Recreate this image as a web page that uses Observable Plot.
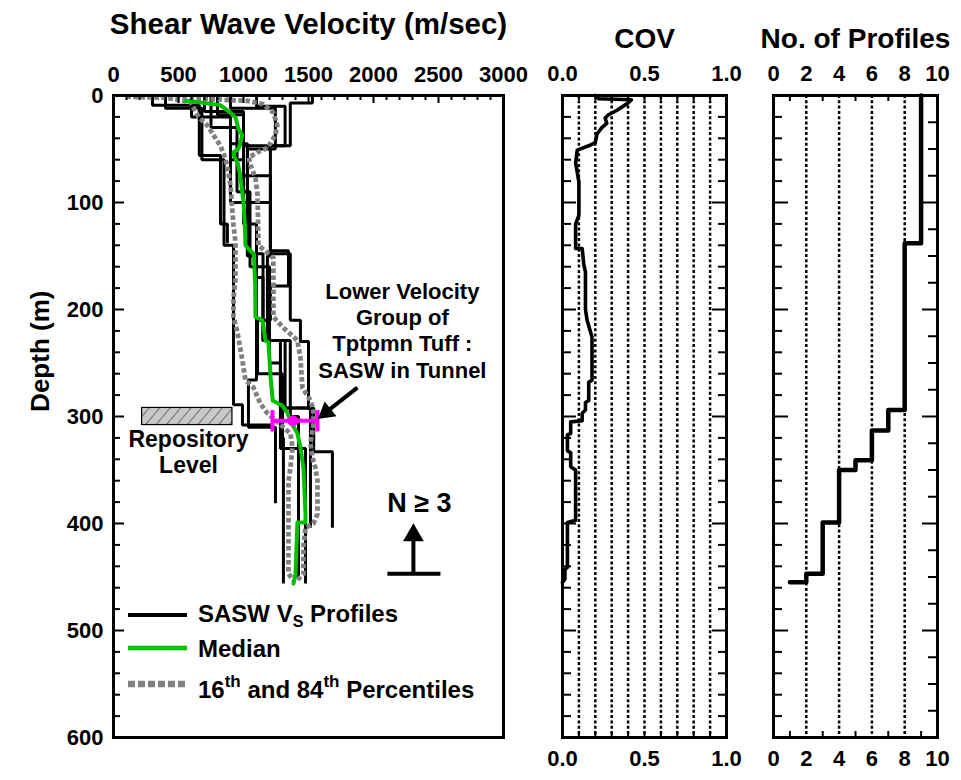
<!DOCTYPE html>
<html><head><meta charset="utf-8">
<script src="https://cdn.jsdelivr.net/npm/d3@7"></script>
<script src="https://cdn.jsdelivr.net/npm/@observablehq/plot@0.6"></script>
<style>
body{margin:0;background:#fff;}
#wrap{position:relative;width:961px;height:780px;}
</style></head><body><div id="wrap"></div>
<script>
// ---------------- data ----------------
const velTickLabels = [0, 500, 1000, 1500, 2000, 2500, 3000];
const depthTickLabels = [0, 100, 200, 300, 400, 500, 600];
const covTickLabels = [0, 0.5, 1.0];
const countTickLabels = [0, 2, 4, 6, 8, 10];
const covGrid = [0.1, 0.2, 0.3, 0.4, 0.5, 0.6, 0.7, 0.8, 0.9];
const countGrid = [2, 4, 6, 8];

// SASW Vs profiles: [velocity m/s, layer top depth m]
const profile1 = [[300,0],[660,9],[823,56],[876,120]];
const profile2 = [[1530,0],[1360,7],[1000,47],[1207,75],[1360,148],[1438,210],[1500,230]];
const profile3 = [[400,0],[680,12],[850,60],[923,140],[992,289],[1223,308]];
const profile4 = [[900,0],[1245,12],[1030,50],[1100,150],[1038,266],[1246,310]];
const profile5 = [[1100,0],[1320,10],[1207,47],[1184,150],[1284,229],[1540,292],[1684,333]];
const profile6 = [[800,0],[1000,18],[900,45],[1030,100],[1150,148],[1320,229],[1515,292]];
const profile7 = [[700,0],[1000,15],[1030,45],[1207,100],[1346,145],[1207,178],[1108,210],[1300,260],[1307,320]];
const profile8 = [[600,0],[900,20],[1000,60],[1100,120],[1150,170],[1360,229],[1423,300]];
const profile9 = [[750,0],[950,30],[1050,90],[1200,160],[1284,250],[1477,330]];
const profileBottoms = [138, 294, 313, 381, 404, 404, 456, 452, 456];

// median and percentiles: [velocity, depth]
const median = [[560,5],[820,9],[900,16],[940,21],[960,31],[990,37],[975,45],[960,50],[925,53],[925,56],[955,63],[975,75],[1000,100],[1010,120],[1015,140],[1050,145],[1080,148],[1090,178],[1092,207],[1146,210],[1169,229],[1192,231],[1210,266],[1225,285],[1300,290],[1340,297],[1360,304],[1415,316],[1438,329],[1461,348],[1477,391],[1477,399],[1415,399],[1400,447],[1385,456]];
const pct16 = [[100,1],[400,2],[592,6],[654,20],[723,28],[769,37],[823,47],[861,59],[884,72],[900,84],[915,109],[923,121],[938,137],[938,171],[923,190],[923,207],[954,222],[992,248],[1015,266],[1077,273],[1130,288],[1184,297],[1260,305],[1361,316],[1377,329],[1361,348],[1346,360],[1346,447],[1384,453]];
const pct84 = [[100,1],[500,2],[1030,5],[1150,8],[1230,16],[1260,28],[1245,37],[1185,49],[1108,53],[1040,58],[1054,65],[1092,77],[1108,93],[1115,140],[1184,147],[1230,152],[1230,207],[1307,217],[1415,229],[1438,245],[1453,273],[1515,285],[1538,294],[1538,307],[1515,325],[1530,338],[1553,348],[1569,360],[1569,391],[1538,400],[1477,404],[1461,422],[1461,447],[1415,453]];

// COV with depth: [cov, depth]
const covProfile = [[0.20,0],[0.22,3],[0.42,4],[0.40,7],[0.38,9],[0.33,14],[0.28,18],[0.26,21],[0.27,26],[0.24,30],[0.21,36],[0.20,44],[0.16,47],[0.09,51],[0.08,63],[0.09,72],[0.10,81],[0.10,112],[0.08,120],[0.08,143],[0.12,143],[0.13,158],[0.14,165],[0.14,200],[0.15,210],[0.18,226],[0.18,266],[0.16,268],[0.16,285],[0.14,287],[0.14,294],[0.12,297],[0.12,304],[0.05,305],[0.05,316],[0.03,317],[0.03,332],[0.05,334],[0.05,347],[0.08,350],[0.08,397],[0.03,399],[0.03,441],[0.015,443],[0.015,452],[0.0,455]];

// number of profiles: [count, layer top depth]
const countLayers = [[9,0],[8,138],[7,294],[6,313],[5,341],[4,350],[3,399],[2,447],[1,455]];
const countBottom = 455;

// annotations
const repository = [{v1: 220, v2: 915, d1: 292, d2: 308}];
const repositoryLabel = [{v: 577, d: 333, text: "Repository\nLevel"}];
const tunnel = [{mean: 1380, lo: 1223, hi: 1569, d: 304, capTop: 294, capBot: 314}];
const tunnelLabel = [{v: 2222, d: 219, text: "Lower Velocity\nGroup of\nTptpmn Tuff :\nSASW in Tunnel"}];
const tunnelArrow = [{v1: 1876, d1: 273, v2: 1645, d2: 295, hv: 1637, hd: 296}];
const nLabel = [{v: 2353, d: 381, text: "N \u2265 3"}];
const nMarker = [{v: 2307, d: 447, v1: 2107, v2: 2515, hd: 411}];
const depthTitle = [{d: 239, text: "Depth (m)"}];

const legendItems = [
  {label: ["SASW V", "S", " Profiles"], color: "black", width: 4, dash: null},
  {label: ["Median"], color: "#00c000", width: 4.5, dash: null},
  {label: ["16", "th", " and 84", "th", " Percentiles"], color: "#808080", width: 6.5, dash: "7,3"}
];

// ---------------- helpers ----------------
const FONT = '"Liberation Sans", Arial, Helvetica, sans-serif';
const H = 780, MT = 95, MB = 43;
const FH = H - MT - MB;

function stepRows(layers, bottom, id) {
  const rows = [];
  layers.forEach(([v, top], i) => {
    const bot = i < layers.length - 1 ? layers[i + 1][1] : bottom;
    rows.push({v, d: top, id}, {v, d: bot, id});
  });
  return rows;
}
const profiles = [profile1, profile2, profile3, profile4, profile5, profile6, profile7, profile8, profile9];
const profileRows = profiles.flatMap((p, i) => stepRows(p, profileBottoms[i], i));
const pts = arr => arr.map(([v, d]) => ({v, d}));

const depthMinor20 = d3.range(20, 600, 20).filter(d => d % 100 !== 0);
const depthMinor25 = d3.range(25, 600, 25).filter(d => d % 100 !== 0);
const depthMajor = [100, 200, 300, 400, 500];

const leftTicks = (vals, len, fw) => Plot.tickY(vals, {y: d => d, insetRight: fw - len, stroke: "black", strokeWidth: 2});
const rightTicks = (vals, len, fw) => Plot.tickY(vals, {y: d => d, insetLeft: fw - len, stroke: "black", strokeWidth: 2});
const topTicks = (vals, len) => Plot.tickX(vals, {x: d => d, insetBottom: FH - len, stroke: "black", strokeWidth: 2});
const bottomTicks = (vals, len) => Plot.tickX(vals, {x: d => d, insetTop: FH - len, stroke: "black", strokeWidth: 2});

const style = left => ({fontFamily: FONT, fontWeight: "bold", position: "absolute", left: left + "px", top: "0px",
  overflow: "visible", background: "transparent", maxWidth: "none"});
const txt = {fill: "black", fontWeight: "bold", lineAnchor: "middle"};

const wrap = document.getElementById("wrap");

// ---------------- panel 1: shear wave velocity ----------------
const W1 = 540, ML1 = 113, MR1 = 37, FW1 = W1 - ML1 - MR1;
const svg1 = Plot.plot({
  width: W1, height: H, marginLeft: ML1, marginRight: MR1, marginTop: MT, marginBottom: MB,
  x: {domain: [0, 3000], axis: null},
  y: {domain: [0, 600], reverse: true, axis: null},
  style: style(0),
  marks: [
    Plot.rect(repository, {x1: "v1", x2: "v2", y1: "d1", y2: "d2", fill: "url(#hatch)", stroke: "black", strokeWidth: 1.2}),
    Plot.line(profileRows, {x: "v", y: "d", z: "id", stroke: "black", strokeWidth: 3, strokeLinejoin: "miter", strokeLinecap: "butt"}),
    Plot.line(pts(pct16), {x: "v", y: "d", stroke: "#808080", strokeWidth: 4.8, strokeDasharray: "4.5,2.5", strokeLinecap: "butt"}),
    Plot.line(pts(pct84), {x: "v", y: "d", stroke: "#808080", strokeWidth: 4.8, strokeDasharray: "4.5,2.5", strokeLinecap: "butt"}),
    Plot.line(pts(median), {x: "v", y: "d", stroke: "#00c000", strokeWidth: 4}),
    // tunnel SASW range
    Plot.link(tunnel, {x1: "lo", x2: "hi", y1: "d", y2: "d", stroke: "#ff00ff", strokeWidth: 4}),
    Plot.link(tunnel, {x1: "lo", x2: "lo", y1: "capTop", y2: "capBot", stroke: "#ff00ff", strokeWidth: 4}),
    Plot.link(tunnel, {x1: "hi", x2: "hi", y1: "capTop", y2: "capBot", stroke: "#ff00ff", strokeWidth: 4}),
    Plot.dot(tunnel, {x: "mean", y: "d", r: 5.5, fill: "#ff00ff", stroke: "none"}),
    Plot.link(tunnelArrow, {x1: "v1", y1: "d1", x2: "v2", y2: "d2", stroke: "black", strokeWidth: 4}),
    Plot.dot(tunnelArrow, {x: "hv", y: "hd", symbol: "triangle", r: 7, rotate: 231.5, fill: "black", stroke: "none"}),
    Plot.text(tunnelLabel, {x: "v", y: "d", text: "text", fontSize: 22, lineHeight: 1.2, ...txt}),
    Plot.text(repositoryLabel, {x: "v", y: "d", text: "text", fontSize: 23, lineHeight: 1.13, ...txt}),
    // N >= 3 marker
    Plot.text(nLabel, {x: "v", y: "d", text: "text", fontSize: 27, ...txt}),
    Plot.link(nMarker, {x1: "v1", x2: "v2", y1: "d", y2: "d", stroke: "black", strokeWidth: 4}),
    Plot.link(nMarker, {x1: "v", x2: "v", y1: "d", y2: "hd", stroke: "black", strokeWidth: 4}),
    Plot.dot(nMarker, {x: "v", y: "hd", symbol: "triangle", r: 7.7, fill: "black", stroke: "none"}),
    // ticks
    leftTicks(depthMinor20, 7, FW1),
    leftTicks(depthMajor, 11, FW1),
    topTicks(d3.range(100, 3000, 100).filter(v => v % 500 !== 0), 5),
    topTicks([500, 1000, 1500, 2000, 2500], 8),
    Plot.frame({stroke: "black", strokeWidth: 3}),
    Plot.text(velTickLabels, {x: d => d, frameAnchor: "top", dy: -21, text: d => String(d), fontSize: 22, ...txt}),
    Plot.text(depthTickLabels, {y: d => d, frameAnchor: "left", dx: -10, textAnchor: "end", text: d => String(d), fontSize: 22, ...txt}),
    Plot.text(["Shear Wave Velocity (m/sec)"], {frameAnchor: "top", dy: -71, text: d => d, fontSize: 29.5, ...txt}),
    Plot.text(depthTitle, {y: "d", frameAnchor: "left", dx: -73, rotate: -90, textAnchor: "middle", text: "text", fontSize: 26, ...txt})
  ]
});
// hatch pattern for the repository box
const defs = d3.select(svg1).insert("defs", ":first-child");
const pat = defs.append("pattern").attr("id", "hatch").attr("patternUnits", "userSpaceOnUse")
  .attr("width", 8).attr("height", 8).attr("patternTransform", "rotate(40)");
pat.append("rect").attr("width", 8).attr("height", 8).attr("fill", "#c8c8c8");
pat.append("line").attr("x1", 0).attr("y1", 0).attr("x2", 0).attr("y2", 8).attr("stroke", "#333").attr("stroke-width", 1.2);
wrap.appendChild(svg1);

// ---------------- panel 2: COV ----------------
const L2 = 540, W2 = 205, ML2 = 22, MR2 = 19, FW2 = W2 - ML2 - MR2;
const svg2 = Plot.plot({
  width: W2, height: H, marginLeft: ML2, marginRight: MR2, marginTop: MT, marginBottom: MB,
  x: {domain: [0, 1], axis: null},
  y: {domain: [0, 600], reverse: true, axis: null},
  style: style(L2),
  marks: [
    Plot.ruleX(covGrid, {x: d => d, stroke: "black", strokeWidth: 2.5, strokeDasharray: "3,2.3"}),
    Plot.line(pts(covProfile), {x: "v", y: "d", stroke: "black", strokeWidth: 3.6}),
    leftTicks(depthMinor20, 9, FW2),
    leftTicks(depthMajor, 14, FW2),
    rightTicks(depthMinor20, 8, FW2),
    rightTicks(depthMajor, 14, FW2),
    topTicks(covGrid, 5),
    bottomTicks(covGrid, 5),
    Plot.frame({stroke: "black", strokeWidth: 3}),
    Plot.text(covTickLabels, {x: d => d, frameAnchor: "top", dy: -22, text: d => d.toFixed(1), fontSize: 22, ...txt}),
    Plot.text(covTickLabels, {x: d => d, frameAnchor: "bottom", dy: 21, text: d => d.toFixed(1), fontSize: 22, ...txt}),
    Plot.text(["COV"], {frameAnchor: "top", dy: -56, text: d => d, fontSize: 28, ...txt})
  ]
});
wrap.appendChild(svg2);

// ---------------- panel 3: number of profiles ----------------
const L3 = 745, W3 = 216, ML3 = 28, MR3 = 24, FW3 = W3 - ML3 - MR3;
const countRows = stepRows(countLayers.slice(0, -1), countBottom, 0)
  .concat([{v: countLayers[countLayers.length - 1][0], d: countBottom, id: 0}]);
const svg3 = Plot.plot({
  width: W3, height: H, marginLeft: ML3, marginRight: MR3, marginTop: MT, marginBottom: MB,
  x: {domain: [0, 10], axis: null},
  y: {domain: [0, 600], reverse: true, axis: null},
  style: style(L3),
  marks: [
    Plot.ruleX(countGrid, {x: d => d, stroke: "black", strokeWidth: 2.5, strokeDasharray: "3,2.3"}),
    Plot.line(countRows, {x: "v", y: "d", stroke: "black", strokeWidth: 4.5}),
    leftTicks(depthMinor20, 9, FW3),
    leftTicks(depthMajor, 15, FW3),
    rightTicks(depthMinor25, 9, FW3),
    rightTicks(depthMajor, 15, FW3),
    topTicks([1, 3, 5, 7, 9], 6),
    bottomTicks([1, 3, 5, 7, 9], 6),
    Plot.frame({stroke: "black", strokeWidth: 3}),
    Plot.text(countTickLabels, {x: d => d, frameAnchor: "top", dy: -22, text: d => String(d), fontSize: 22, ...txt}),
    Plot.text(countTickLabels, {x: d => d, frameAnchor: "bottom", dy: 21, text: d => String(d), fontSize: 22, ...txt}),
    Plot.text(["No. of Profiles"], {frameAnchor: "top", dy: -56, text: d => d, fontSize: 28, ...txt})
  ]
});
wrap.appendChild(svg3);

// ---------------- legend (inside velocity panel) ----------------
const lg = d3.select(wrap).append("svg").attr("width", 961).attr("height", 780)
  .style("position", "absolute").style("left", "0px").style("top", "0px").style("pointer-events", "none")
  .attr("font-family", FONT).attr("font-weight", "bold");
const lineY = [615, 648, 684];
const baseY = [622, 657, 698];
legendItems.forEach((it, i) => {
  lg.append("line").attr("x1", 128).attr("x2", 187).attr("y1", lineY[i]).attr("y2", lineY[i])
    .attr("stroke", it.color).attr("stroke-width", it.width).attr("stroke-dasharray", it.dash);
  const t = lg.append("text").attr("x", 198).attr("y", baseY[i]).attr("font-size", 24).attr("fill", "black");
  if (i === 0) {
    t.append("tspan").text(it.label[0]);
    t.append("tspan").text(it.label[1]).attr("font-size", 16).attr("dy", 5);
    t.append("tspan").text(it.label[2]).attr("dy", -5);
  } else if (i === 2) {
    t.append("tspan").text(it.label[0]);
    t.append("tspan").text(it.label[1]).attr("font-size", 17).attr("dy", -11);
    t.append("tspan").text(it.label[2]).attr("dy", 11);
    t.append("tspan").text(it.label[3]).attr("font-size", 17).attr("dy", -11);
    t.append("tspan").text(it.label[4]).attr("dy", 11);
  } else {
    t.text(it.label[0]);
  }
});
</script></body></html>
